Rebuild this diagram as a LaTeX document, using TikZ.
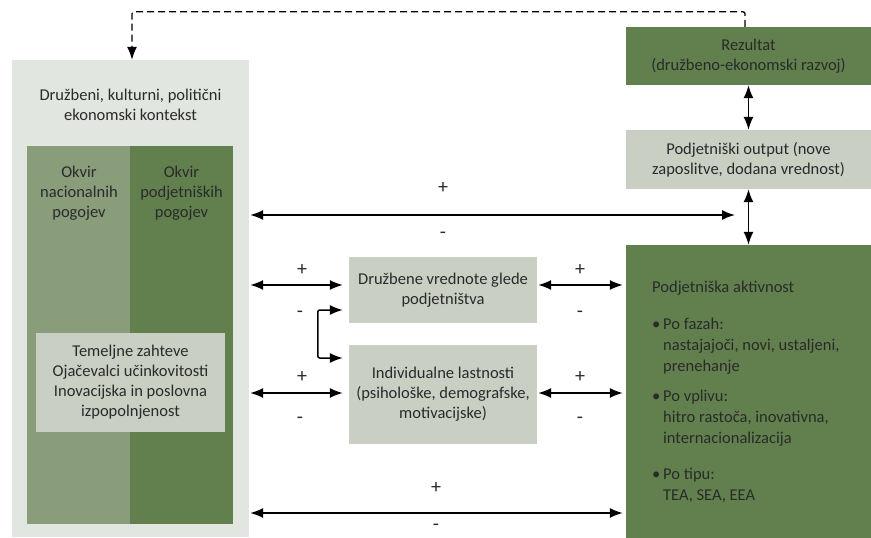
\documentclass[tikz,border=0pt]{standalone}
\usepackage{fontspec}
\setmainfont{Carlito}
\usetikzlibrary{arrows.meta,calc}
\definecolor{ctxgrey}{HTML}{E2E6E0}
\definecolor{lightgreen}{HTML}{8A9D7A}
\definecolor{darkgreen}{HTML}{62804E}
\definecolor{palebox}{HTML}{C9D0C3}
\definecolor{inkc}{HTML}{2A2A2A}
\begin{document}
\begin{tikzpicture}
    [
    x=1pt, y=-1pt,
    font=\fontsize{16.5}{20}\selectfont,
    every node/.style={text=inkc},
    box/.style={
      rectangle,
      inner sep=0pt
    },
    lbl/.style={
      align=center,
      inner sep=0pt
    },
    sign/.style={
      inner sep=0pt,
      font=\fontsize{20}{20}\selectfont
    },
    link/.style={
      line width=1.5pt,
      {Latex[length=13pt,width=10pt]}-{Latex[length=13pt,width=10pt]}
    }]
    \useasboundingbox (0,0) rectangle (871,538);
    % left context block
    \node (ctx) at (130.5,298.5) [box, fill=ctxgrey, minimum width=237pt, minimum height=477pt] {};
    \node (nat) at (78.5,335) [box, fill=lightgreen, minimum width=103pt, minimum height=378pt] {};
    \node (pod) at (181.5,335) [box, fill=darkgreen, minimum width=103pt, minimum height=378pt] {};
    \node (tem) at (130.5,382.5) [box, fill=palebox, minimum width=189pt, minimum height=99pt, lbl]
      {Temeljne zahteve\\Ojačevalci učinkovitosti\\Inovacijska in poslovna\\izpopolnjenost};
    \node (ctxlbl) at (130.5,105) [lbl] {Družbeni, kulturni, politični\\ekonomski kontekst};
    \node (natlbl) at (79,193) [lbl] {Okvir\\nacionalnih\\pogojev};
    \node (podlbl) at (181.5,193) [lbl] {Okvir\\podjetniških\\pogojev};
    % middle boxes
    \node (vred) at (443,290) [box, fill=palebox, minimum width=188pt, minimum height=66pt, lbl]
      {Družbene vrednote glede\\podjetništva};
    \node (ind) at (443,394.5) [box, fill=palebox, minimum width=188pt, minimum height=99pt, lbl]
      {Individualne lastnosti\\(psihološke, demografske,\\motivacijske)};
    % right column
    \node (rez) at (748.5,56) [box, fill=darkgreen, minimum width=245pt, minimum height=58pt, lbl]
      {Rezultat\\(družbeno-ekonomski razvoj)};
    \node (out) at (748.5,159.5) [box, fill=palebox, minimum width=245pt, minimum height=59pt, lbl]
      {Podjetniški output (nove\\zaposlitve, dodana vrednost)};
    \node (akt) at (748.5,391.5) [box, fill=darkgreen, minimum width=245pt, minimum height=293pt] {};
    \node (aktlbl) at (652,281) [anchor=north west, align=left, inner sep=0pt,
      font=\fontsize{16.5}{21}\selectfont]
      {Podjetniška aktivnost\\[16pt]
       \makebox[11pt][l]{\textbullet}Po fazah:\\
       \hspace*{11pt}nastajajoči, novi, ustaljeni,\\
       \hspace*{11pt}prenehanje\\[9pt]
       \makebox[11pt][l]{\textbullet}Po vplivu:\\
       \hspace*{11pt}hitro rastoča, inovativna,\\
       \hspace*{11pt}internacionalizacija\\[15pt]
       \makebox[11pt][l]{\textbullet}Po tipu:\\
       \hspace*{11pt}TEA, SEA, EEA};
    \coordinate (outjoin) at (735,215);
    % connectors
    \draw [link] (rez.south) -- (out.north);
    \draw [link] (out.south) -- (akt.north);
    \draw [link, shorten <=1pt] ([yshift=83.5pt]ctx.east) -- (outjoin);
    \draw [link, shorten <=1pt, shorten >=6pt] ([yshift=5pt]ctx.east |- vred.west) -- ([yshift=5pt]vred.west);
    \draw [link, shorten <=1pt, shorten >=3pt] ([yshift=5pt]vred.east) -- ([yshift=5pt]vred.east -| akt.west);
    \draw [link, shorten <=1pt, shorten >=6pt] ([yshift=1.5pt]ctx.east |- ind.west) -- ([yshift=1.5pt]ind.west);
    \draw [link, shorten <=1pt, shorten >=3pt] ([yshift=1.5pt]ind.east) -- ([yshift=1.5pt]ind.east -| akt.west);
    \draw [link, shorten <=1pt, shorten >=3pt] ([yshift=-214.5pt]ctx.east) -- ([yshift=-214.5pt]ctx.east -| akt.west);
    \draw [link, rounded corners=2pt, shorten <=6pt, shorten >=6pt]
      ([yshift=-20pt]vred.west) -- ++(-31,0) |- ([yshift=36.5pt]ind.west);
    \draw [line width=1.3pt, dash pattern=on 7pt off 4pt, rounded corners=2pt, -{Latex[length=13pt,width=10pt]}]
      ([xshift=-3.5pt]rez.north) -- ++(0,-15) -| ([xshift=1.5pt]ctx.north);
    % signs
    \node (p1) at (443,188) [sign] {+};
    \node (m1) at (443,235) [sign] {-};
    \node (p2) at (302,270) [sign] {+};
    \node (m2) at (300,314) [sign] {-};
    \node (p3) at (580,270) [sign] {+};
    \node (m3) at (580,314) [sign] {-};
    \node (p4) at (302,377) [sign] {+};
    \node (m4) at (300,420) [sign] {-};
    \node (p5) at (580,377) [sign] {+};
    \node (m5) at (580,420) [sign] {-};
    \node (p6) at (436,488) [sign] {+};
    \node (m6) at (436,527) [sign] {-};
  \end{tikzpicture}
\end{document}
